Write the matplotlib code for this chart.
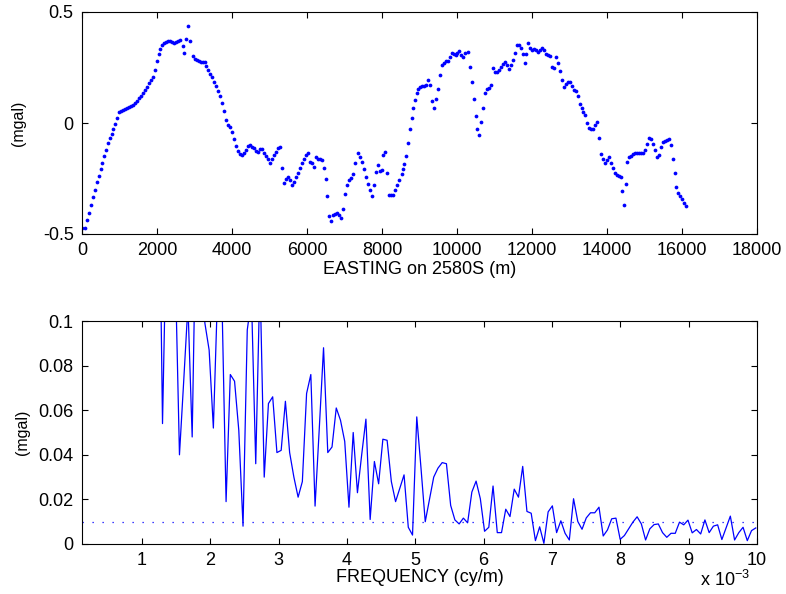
import numpy as np
import matplotlib
matplotlib.use('Agg')
import matplotlib.pyplot as plt

plt.rcParams['font.family'] = ['Liberation Sans', 'DejaVu Sans']
plt.rcParams['mathtext.fontset'] = 'custom'
plt.rcParams['mathtext.rm'] = 'Liberation Sans'
plt.rcParams['font.size'] = 13

# ── profile: gravity (mgal) vs easting (m) along line 2580S ──────────────────
easting = [0, 80, 143, 196, 249, 302, 347, 391, 445, 498, 543, 587, 640, 694, 747, 791, 836, 889, 942, 987,
           1031, 1085, 1138, 1192, 1245, 1298, 1352, 1405, 1458, 1512, 1565, 1618, 1672, 1725, 1778, 1832, 1885, 1938, 1992, 2045,
           2089, 2134, 2187, 2241, 2294, 2347, 2401, 2454, 2507, 2561, 2614, 2685, 2730, 2774, 2827, 2881, 2952, 3005, 3059, 3112,
           3165, 3219, 3272, 3307, 3361, 3414, 3467, 3521, 3574, 3627, 3681, 3734, 3787, 3841, 3894, 3947, 4001, 4054, 4107, 4161,
           4214, 4267, 4321, 4374, 4428, 4481, 4534, 4588, 4641, 4694, 4748, 4801, 4854, 4908, 4961, 5014, 5068, 5121, 5174, 5228,
           5281, 5334, 5388, 5441, 5494, 5548, 5601, 5654, 5708, 5761, 5814, 5868, 5921, 5974, 6028, 6081, 6134, 6188, 6241, 6294,
           6348, 6401, 6454, 6508, 6543, 6597, 6632, 6686, 6739, 6792, 6846, 6899, 6952, 7006, 7059, 7112, 7166, 7219, 7290, 7361,
           7415, 7468, 7521, 7575, 7628, 7681, 7735, 7788, 7841, 7895, 7948, 8001, 8037, 8090, 8144, 8197, 8250, 8304, 8357, 8410,
           8464, 8524, 8569, 8596, 8640, 8684, 8747, 8791, 8836, 8880, 8925, 8969, 9013, 9067, 9120, 9173, 9227, 9280, 9333, 9387,
           9440, 9493, 9547, 9600, 9653, 9707, 9760, 9814, 9867, 9920, 9974, 10009, 10062, 10116, 10169, 10222, 10294, 10347, 10400, 10454,
           10507, 10542, 10596, 10649, 10702, 10756, 10809, 10862, 10916, 10951, 11005, 11058, 11111, 11165, 11218, 11271, 11325, 11378, 11431, 11485,
           11538, 11592, 11645, 11698, 11752, 11805, 11840, 11894, 11947, 12000, 12054, 12107, 12160, 12214, 12267, 12320, 12374, 12427, 12481, 12534,
           12587, 12641, 12694, 12747, 12801, 12854, 12907, 12961, 13014, 13067, 13121, 13174, 13227, 13281, 13334, 13370, 13423, 13476, 13530, 13583,
           13636, 13690, 13743, 13796, 13850, 13903, 13956, 14010, 14063, 14098, 14152, 14205, 14258, 14312, 14365, 14401, 14454, 14507, 14543, 14596,
           14650, 14703, 14756, 14810, 14863, 14916, 14970, 15023, 15076, 15130, 15183, 15236, 15290, 15343, 15396, 15450, 15503, 15556, 15610, 15663,
           15698, 15752, 15805, 15841, 15894, 15948, 16001, 16054, 16108]

gravity = [-0.474, -0.474, -0.437, -0.405, -0.369, -0.334, -0.302, -0.267, -0.237, -0.209, -0.179, -0.149, -0.122, -0.092, -0.069, -0.050, -0.028, -0.006, 0.024, 0.051,
           0.055, 0.059, 0.062, 0.066, 0.071, 0.077, 0.081, 0.089, 0.101, 0.111, 0.123, 0.136, 0.149, 0.164, 0.179, 0.194, 0.209, 0.239, 0.281, 0.311,
           0.332, 0.351, 0.359, 0.363, 0.368, 0.371, 0.363, 0.359, 0.363, 0.369, 0.374, 0.345, 0.314, 0.377, 0.437, 0.369, 0.303, 0.288, 0.284, 0.279,
           0.276, 0.276, 0.273, 0.258, 0.239, 0.221, 0.206, 0.186, 0.167, 0.146, 0.122, 0.089, 0.055, 0.014, -0.009, -0.016, -0.039, -0.074, -0.102, -0.124,
           -0.140, -0.146, -0.137, -0.122, -0.104, -0.099, -0.107, -0.114, -0.124, -0.129, -0.119, -0.119, -0.134, -0.149, -0.164, -0.182, -0.160, -0.142, -0.129, -0.114,
           -0.107, -0.204, -0.271, -0.253, -0.241, -0.259, -0.279, -0.264, -0.244, -0.223, -0.204, -0.182, -0.164, -0.144, -0.134, -0.174, -0.182, -0.197, -0.155, -0.160,
           -0.164, -0.167, -0.204, -0.252, -0.329, -0.419, -0.440, -0.416, -0.409, -0.406, -0.416, -0.427, -0.386, -0.320, -0.279, -0.257, -0.249, -0.229, -0.178, -0.134,
           -0.152, -0.174, -0.209, -0.244, -0.274, -0.304, -0.331, -0.279, -0.219, -0.189, -0.214, -0.211, -0.144, -0.131, -0.227, -0.324, -0.324, -0.324, -0.302, -0.279,
           -0.257, -0.229, -0.209, -0.184, -0.149, -0.089, -0.025, 0.024, 0.066, 0.104, 0.133, 0.155, 0.164, 0.167, 0.167, 0.171, 0.194, 0.171, 0.099, 0.069,
           0.110, 0.152, 0.215, 0.261, 0.272, 0.278, 0.278, 0.296, 0.314, 0.309, 0.306, 0.317, 0.326, 0.306, 0.296, 0.314, 0.320, 0.254, 0.186, 0.107,
           0.033, -0.025, -0.054, 0.006, 0.069, 0.133, 0.153, 0.156, 0.170, 0.246, 0.231, 0.231, 0.239, 0.254, 0.264, 0.273, 0.260, 0.242, 0.261, 0.284,
           0.317, 0.353, 0.353, 0.339, 0.311, 0.269, 0.311, 0.360, 0.336, 0.329, 0.332, 0.329, 0.321, 0.329, 0.336, 0.329, 0.309, 0.306, 0.303, 0.254,
           0.246, 0.299, 0.272, 0.236, 0.194, 0.164, 0.176, 0.185, 0.185, 0.167, 0.149, 0.142, 0.122, 0.086, 0.066, 0.051, 0.036, 0.002, -0.024, -0.028,
           -0.028, -0.009, 0.006, -0.067, -0.140, -0.163, -0.181, -0.166, -0.155, -0.181, -0.204, -0.223, -0.233, -0.238, -0.241, -0.305, -0.369, -0.274, -0.174, -0.155,
           -0.147, -0.140, -0.134, -0.134, -0.137, -0.137, -0.134, -0.122, -0.095, -0.069, -0.074, -0.095, -0.122, -0.152, -0.144, -0.107, -0.084, -0.081, -0.077, -0.074,
           -0.101, -0.164, -0.227, -0.290, -0.314, -0.329, -0.344, -0.359, -0.374]

# ── amplitude spectrum: harmonic k = 2..161, spacing DF cycles/m ─────────────
DF = 6.2e-5
harmonic = np.arange(2, 162)
amplitude = [0.38, 0.45, 0.31, 0.27, 0.33, 0.22, 0.19, 0.24, 0.16, 0.21, 0.18, 0.14, 0.23, 0.17, 0.15, 0.19, 0.13, 0.16,
             0.20, 0.054, 0.15, 0.17, 0.125, 0.040, 0.073, 0.107, 0.048, 0.16, 0.13, 0.099, 0.087, 0.052, 0.113, 0.112,
             0.019, 0.076, 0.073, 0.051, 0.008, 0.096, 0.11, 0.036, 0.12, 0.030, 0.063, 0.066, 0.041, 0.042, 0.064, 0.041,
             0.030, 0.021, 0.028, 0.0675, 0.076, 0.017, 0.052, 0.088, 0.041, 0.0435, 0.061, 0.0555, 0.046, 0.0165, 0.050, 0.023,
             0.040, 0.056, 0.011, 0.037, 0.027, 0.047, 0.0465, 0.028, 0.019, 0.025, 0.031, 0.0075, 0.004, 0.057, 0.034, 0.010,
             0.020, 0.030, 0.034, 0.0365, 0.036,
             0.0173, 0.0108, 0.0090, 0.0116, 0.0095, 0.0233, 0.0282, 0.0203, 0.0057, 0.0075, 0.0260, 0.0051, 0.0051, 0.0156, 0.0123,
             0.0246, 0.0210, 0.0348, 0.0146, 0.0138, 0.0015, 0.0077, 0.0003, 0.0144, 0.0171, 0.0051, 0.0104, 0.0048, 0.0018, 0.0203,
             0.0101, 0.0066, 0.0117, 0.0140, 0.0140, 0.0165, 0.0036, 0.0063, 0.0113, 0.0116, 0.0021, 0.0038, 0.0068, 0.0098, 0.0122,
             0.0090, 0.0018, 0.0068, 0.0087, 0.0090, 0.0051, 0.0030, 0.0048, 0.0048, 0.0098, 0.0086, 0.0107, 0.0050, 0.0065, 0.0045,
             0.0108, 0.0051, 0.0080, 0.0086, 0.0020, 0.0072, 0.0125, 0.0018, 0.0051, 0.0075, 0.0015, 0.0060, 0.0072]
noise_level = 0.01

assert len(easting) == len(gravity), (len(easting), len(gravity))
assert len(harmonic) == len(amplitude), (len(harmonic), len(amplitude))
freq = harmonic * DF


def matlab_axes(ax):
    ax.tick_params(direction='in', length=4, width=0.8, top=True, right=True, pad=6)
    for s in ax.spines.values():
        s.set_linewidth(0.8)


fig = plt.figure(figsize=(7.86, 5.94), dpi=100)

# ── top: profile ────────────────────────────────────────────────────────────
ax1 = fig.add_axes([82 / 786, 1 - 234 / 594, 675 / 786, 222 / 594])
ax1.plot(easting, gravity, 'o', color='b', markersize=2.7, markeredgewidth=0)
ax1.set_xlim(0, 18000)
ax1.set_ylim(-0.5, 0.5)
ax1.set_xticks(np.arange(0, 18001, 2000))
ax1.set_yticks([-0.5, 0, 0.5])
ax1.set_yticklabels(['-0.5', '0', '0.5'])
ax1.set_xlabel('EASTING on 2580S (m)', labelpad=1)
ax1.set_ylabel('(mgal)', fontsize=11.5, labelpad=12)
matlab_axes(ax1)

# ── bottom: spectrum ────────────────────────────────────────────────────────
ax2 = fig.add_axes([82 / 786, 1 - 544 / 594, 675 / 786, 223 / 594])
ax2.plot(freq, amplitude, '-', color='b', lw=0.9)
ax2.plot([2 * DF, 0.01], [noise_level, noise_level], color='b', lw=0.9, dashes=(1, 7))
ax2.set_xlim(2 * DF, 0.01)
ax2.set_ylim(0, 0.1)
ax2.set_xticks(np.arange(1, 11) * 1e-3)
ax2.set_xticklabels([str(i) for i in range(1, 11)])
ax2.set_yticks([0, 0.02, 0.04, 0.06, 0.08, 0.1])
ax2.set_yticklabels(['0', '0.02', '0.04', '0.06', '0.08', '0.1'])
ax2.set_xlabel('FREQUENCY (cy/m)', labelpad=0)
ax2.set_ylabel('(mgal)', fontsize=11.5, labelpad=6)
matlab_axes(ax2)
fig.text(700 / 786, 1 - 580 / 594, r'x 10$^{-3}$', ha='left', va='center', fontsize=13)

fig.savefig('out.png', dpi=100)
